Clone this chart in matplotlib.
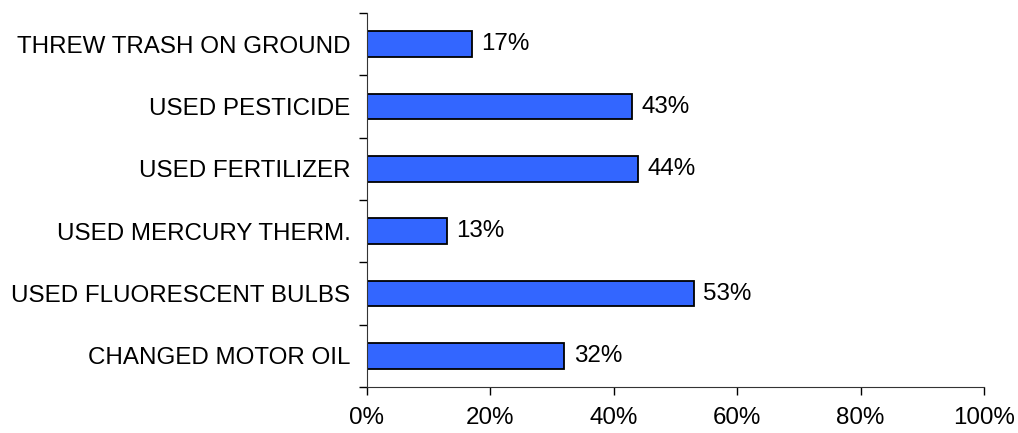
import numpy as np
import matplotlib.pyplot as plt
from matplotlib.ticker import FixedLocator, PercentFormatter

plt.rcParams['font.family'] = ['Liberation Sans', 'DejaVu Sans']

categories = ["THREW TRASH ON GROUND", "USED PESTICIDE", "USED FERTILIZER",
              "USED MERCURY THERM.", "USED FLUORESCENT BULBS", "CHANGED MOTOR OIL"]
values = [17, 43, 44, 13, 53, 32]

fig = plt.figure(figsize=(10.18, 4.33), dpi=100)
ax = fig.add_axes([0.3605, 0.106, 0.606, 0.864])

fs = 17.4
y = np.arange(len(categories))[::-1]
ax.barh(y, values, height=0.41, color='#3366FF', edgecolor='black', linewidth=1.3)
for yi, v in zip(y, values):
    ax.text(v + 1.5, yi, str(v) + '%', va='center', ha='left', fontsize=fs)

ax.set_xlim(0, 100)
ax.set_ylim(-0.5, len(categories) - 0.5)
ax.set_xticks([0, 20, 40, 60, 80, 100])
ax.xaxis.set_major_formatter(PercentFormatter(decimals=0))
ax.set_yticks(y)
ax.set_yticklabels(categories)
ax.yaxis.set_minor_locator(FixedLocator(np.arange(-0.5, len(categories), 1)))
ax.tick_params(axis='y', which='major', length=0, pad=12, labelsize=fs)
ax.tick_params(axis='y', which='minor', length=5.5, width=1)
ax.tick_params(axis='x', length=5.5, width=1, pad=9, labelsize=fs)

for s in ['top', 'right']:
    ax.spines[s].set_visible(False)
ax.spines['left'].set_color('#333333')
ax.spines['bottom'].set_color('#333333')

fig.savefig('out.png', dpi=100)
